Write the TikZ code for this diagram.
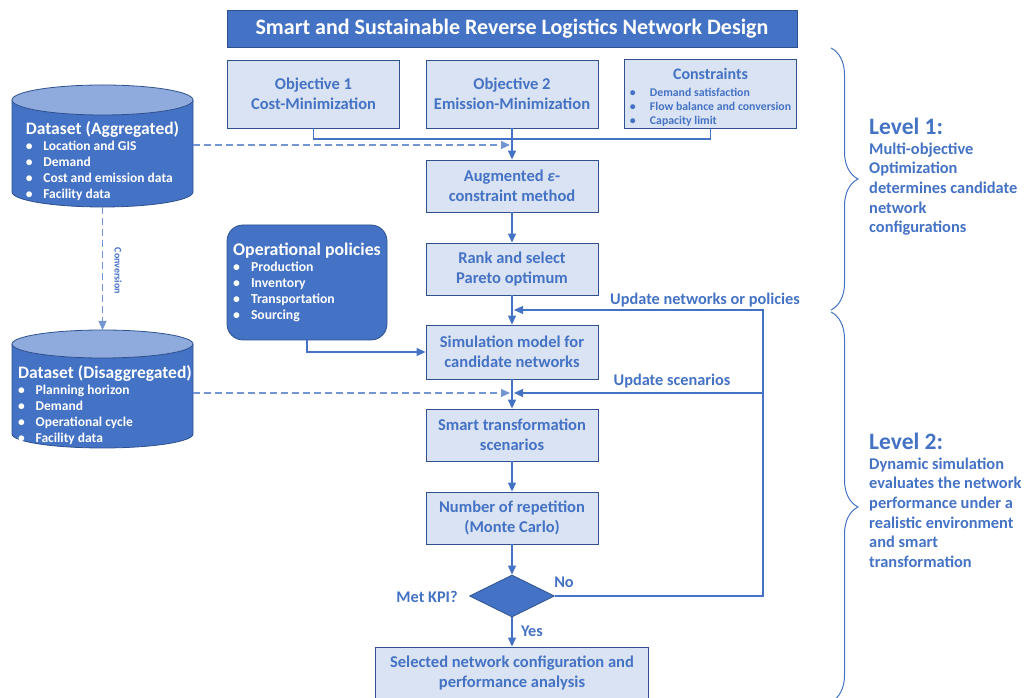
\documentclass[tikz,border=0pt]{standalone}
\usepackage{fontspec}
\setmainfont{Carlito}
\usetikzlibrary{shapes.geometric, arrows.meta}
\usetikzlibrary{positioning}
\usetikzlibrary{decorations.pathreplacing}
\definecolor{mainblue}{HTML}{4472C4}
\definecolor{lightblue}{HTML}{DAE3F3}
\definecolor{topblue}{HTML}{8FAADC}
\definecolor{edgeblue}{HTML}{2F528F}
\newcommand{\bul}[2][1.3em]{\makebox[#1][l]{\textbullet}#2}
% database cylinder: left x, top centre y, bottom centre y, half height of ellipse
\newcommand{\dbcylinder}[4]{%
 \fill[mainblue] (#1,#2) -- (#1,#3) arc[start angle=180, end angle=360, x radius=90.5pt, y radius=#4pt] -- (#1+181,#2) -- cycle;
 \draw[edgeblue, line width=0.8pt] (#1,#2) -- (#1,#3) arc[start angle=180, end angle=360, x radius=90.5pt, y radius=#4pt] -- (#1+181,#2);
 \filldraw[fill=topblue, draw=edgeblue, line width=0.8pt] (#1+90.5,#2) ellipse[x radius=90.5pt, y radius=#4pt];}
\tikzstyle{heading} = [rectangle, minimum width=570pt, minimum height=37pt, text centered, draw=edgeblue, fill=mainblue, text=white, font=\bfseries\fontsize{22}{26}\selectfont]
\tikzstyle{process} = [rectangle, minimum width=172pt, minimum height=52pt, align=center, draw=edgeblue, line width=0.8pt, fill=lightblue, text=mainblue, font=\bfseries\fontsize{16.5}{19.5}\selectfont]
\tikzstyle{policy} = [rectangle, rounded corners=16pt, minimum width=160pt, minimum height=115pt, align=left, draw=edgeblue, line width=0.8pt, fill=mainblue, text=white, font=\bfseries\fontsize{13.7}{16}\selectfont]
\tikzstyle{dataset} = [rectangle, align=left, inner sep=0pt, text=white, font=\bfseries\fontsize{13.5}{16}\selectfont]
\tikzstyle{decision} = [diamond, minimum width=85pt, minimum height=42pt, inner sep=0pt, draw=edgeblue, line width=0.8pt, fill=mainblue]
\tikzstyle{flowtext} = [text=mainblue, font=\bfseries\fontsize{16.3}{19}\selectfont]
\tikzstyle{leveltext} = [anchor=north west, align=left, inner sep=0pt, text=mainblue, font=\bfseries\fontsize{16.4}{19.6}\selectfont]
\tikzstyle{link} = [line width=1.1pt, draw=mainblue]
\tikzstyle{arrow} = [line width=1.1pt, draw=mainblue, ->, >={Triangle[length=9pt, width=8pt]}]
\tikzstyle{dasharrow} = [arrow, draw=mainblue!75, dash pattern=on 7pt off 4pt]
\tikzstyle{bracket} = [line width=1pt, draw=mainblue, decorate, decoration={brace, amplitude=27pt}]

\begin{document}
\begin{tikzpicture}[x=1pt, y=1pt, node distance=83pt]
 \useasboundingbox (0,0) rectangle (1026,698);
 \clip (0,0) rectangle (1026,698);

 % level 1: optimization
 \node (obj2) [process, minimum height=68pt] at (512,604) {Objective 2\\Emission-Minimization};
 \node (obj1) [process, minimum height=68pt, left of=obj2, node distance=198.5pt] {Objective 1\\Cost-Minimization};
 \node (constr) [process, minimum height=68pt, inner ysep=0pt, right of=obj2, node distance=198.5pt] {{\fontsize{16}{18}\selectfont\rule{0pt}{19.5pt}Constraints}\\[-2.5pt]
  {\fontsize{11.8}{14}\selectfont\begin{tabular}[t]{@{}l@{}}\bul[1.7em]{Demand satisfaction}\\\bul[1.7em]{Flow balance and conversion}\\\bul[1.7em]{Capacity limit}\end{tabular}}};
 \node (title) [heading, above of=obj2, node distance=65.5pt] {Smart and Sustainable Reverse Logistics Network Design};
 \node (aug) [process, below of=obj2, node distance=92pt] {Augmented \textit{ε}-\\constraint method};
 \node (rank) [process, below of=aug] {Rank and select\\Pareto optimum};

 % level 2: simulation
 \node (sim) [process, below of=rank, minimum height=54pt] {Simulation model for\\candidate networks};
 \node (smart) [process, below of=sim] {Smart transformation\\scenarios};
 \node (num) [process, below of=smart] {Number of repetition\\(Monte Carlo)};
 \node (kpi) [decision, below of=num, node distance=78pt] {};
 \node (sel) [process, below of=kpi, node distance=77pt, minimum width=273pt] {Selected network configuration and\\performance analysis};

 \node (policy) [policy] at (307,415.5) {{\fontsize{17.8}{20}\selectfont Operational policies}\\\bul{Production}\\\bul{Inventory}\\\bul{Transportation}\\\bul{Sourcing}};

 % data sets
 \dbcylinder{12}{598}{506}{15}
 \node (aggr) [dataset] at (102.5,537) {{\fontsize{17.5}{19}\selectfont Dataset (Aggregated)}\\\bul{Location and GIS}\\\bul{Demand}\\\bul{Cost and emission data}\\\bul{Facility data}};
 \dbcylinder{12}{354}{264}{14}
 \node (disaggr) [dataset] at (105,293) {{\fontsize{17.5}{19}\selectfont Dataset (Disaggregated)}\\\bul{Planning horizon}\\\bul{Demand}\\\bul{Operational cycle}\\\bul{Facility data}};
 \coordinate (aggr-out) at (193,553);
 \coordinate (aggr-bot) at (102.5,491);
 \coordinate (disaggr-top) at (102.5,368);
 \coordinate (disaggr-out) at (193,305);

 % labels
 \node (conv) [flowtext, rotate=-90, font=\bfseries\fontsize{10}{12}\selectfont] at (118,427) {Conversion};
 \node (updnet) [flowtext] at (705,398) {Update networks or policies};
 \node (updscen) [flowtext] at (672,317) {Update scenarios};
 \node (metkpi) [flowtext] at (427,101) {Met KPI?};
 \node (no) [flowtext] at (564,116) {No};
 \node (yes) [flowtext] at (532,67) {Yes};
 \node (lvl1) [leveltext] at (869,580) {{\fontsize{23.5}{26}\selectfont Level 1:}\\Multi-objective\\Optimization\\determines candidate\\network\\configurations};
 \node (lvl2) [leveltext] at (869,265) {{\fontsize{23.5}{26}\selectfont Level 2:}\\Dynamic simulation\\evaluates the network\\performance under a\\realistic environment\\and smart\\transformation};

 % connectors
 \coordinate (bus) at (512,559);
 \draw [link] (obj1.south) |- (bus) -| (constr.south);
 \draw [arrow] (obj2.south) -- (aug.north);
 \draw [dasharrow] (aggr-out) -- ([xshift=-2pt]aug.north |- aggr-out);
 \draw [arrow] (aug) -- (rank);
 \draw [arrow] (rank) -- (sim);
 \draw [arrow] (sim) -- (smart);
 \draw [arrow] (smart) -- (num);
 \draw [arrow] (num) -- (kpi);
 \draw [arrow] (kpi) -- (sel);
 \draw [arrow] (policy.south) |- (sim.west);
 \draw [dasharrow] (disaggr-out) -- ([xshift=-2pt]smart.north |- disaggr-out);
 \draw [dasharrow] (aggr-bot) -- (disaggr-top);
 \coordinate (upd1) at (763,388);
 \coordinate (upd2) at (763,305);
 \draw [arrow] (kpi.east) -| (upd1) -- ([xshift=2pt]sim.north |- upd1);
 \draw [arrow] (upd2) -- ([xshift=2pt]smart.north |- upd2);

 % levels
 \draw [bracket] (831,650) -- (831,388);
 \draw [bracket] (831,386) -- (831,-4);
\end{tikzpicture}
\end{document}
